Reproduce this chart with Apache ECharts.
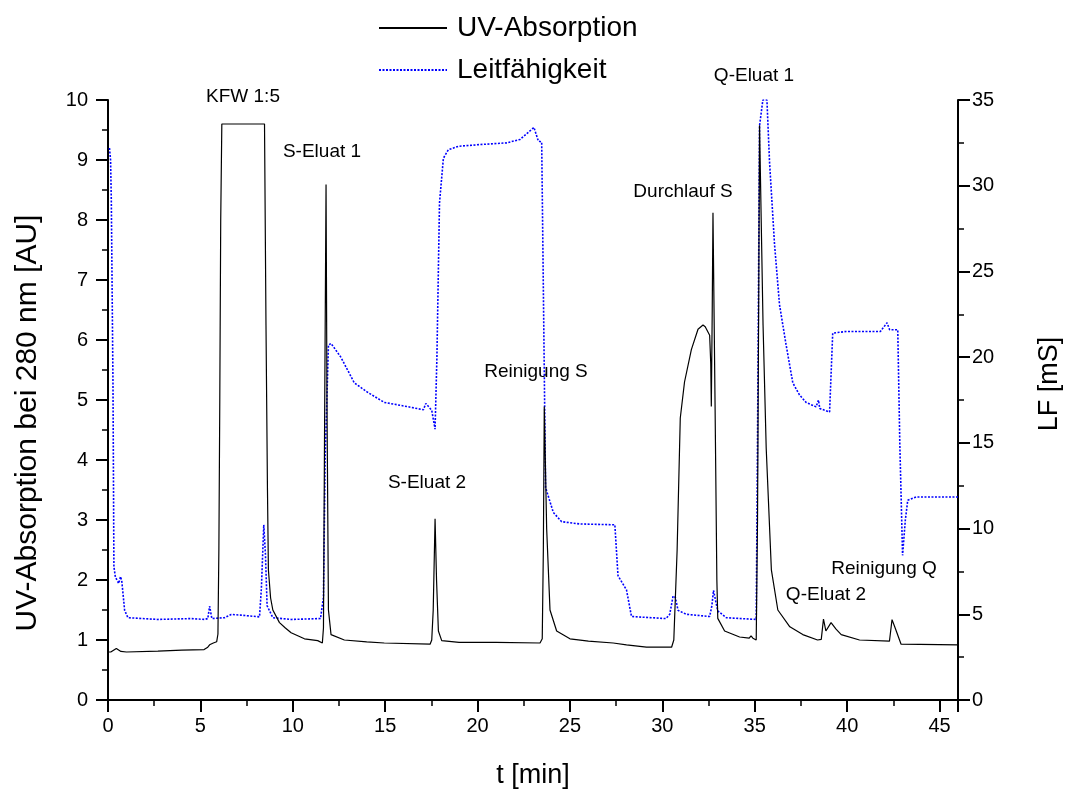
<!DOCTYPE html>
<html>
<head>
<meta charset="utf-8">
<script src="https://cdn.jsdelivr.net/npm/echarts@6/dist/echarts.min.js"></script>
<style>
  html, body { margin: 0; padding: 0; background: #fff; }
  #chart { width: 1071px; height: 794px; }
</style>
</head>
<body>
<div id="chart"></div>
<script>
// UV-Absorption (linke Achse, AU)
const uvTime = [0.0, 0.15, 0.45, 0.7, 1.0, 2.7, 4.0, 5.2, 5.4, 5.5, 5.7, 5.88, 5.95, 6.0, 6.05, 6.1, 6.16,
  8.47, 8.55, 8.63, 8.68, 8.8, 8.92, 9.28, 9.6, 9.91, 10.63, 11.35, 11.6, 11.66, 11.72, 11.8, 11.85, 11.93,
  12.07, 12.79, 14.0, 14.95, 17.43, 17.52, 17.6, 17.7, 17.78, 17.88, 18.06, 19.0, 21.0, 23.38, 23.5, 23.56,
  23.61, 23.74, 23.92, 24.28, 25.0, 26.0, 27.34, 28.06, 29.14, 30.5, 30.62, 30.67, 30.8, 30.97, 31.2, 31.57,
  31.93, 32.2, 32.32, 32.56, 32.62, 32.65, 32.7, 32.74, 32.85, 32.95, 33.0, 33.37, 34.18, 34.7, 34.8, 34.9,
  35.08, 35.15, 35.22, 35.26, 35.35, 35.45, 35.62, 35.9, 36.25, 36.9, 37.6, 38.4, 38.6, 38.72, 38.85, 38.95,
  39.13, 39.4, 39.68, 40.67, 42.29, 42.43, 42.6, 42.92, 46.0];
const uvValue = [0.80, 0.80, 0.86, 0.81, 0.80, 0.815, 0.83, 0.84, 0.88, 0.92, 0.95, 0.97, 1.1, 2.5, 5.0, 8.0, 9.6,
  9.6, 6.25, 3.5, 2.17, 1.7, 1.5, 1.29, 1.2, 1.12, 1.02, 0.99, 0.95, 1.2, 4.5, 8.59, 5.0, 1.5,
  1.09, 1.0, 0.97, 0.95, 0.93, 1.0, 1.5, 3.02, 2.0, 1.15, 0.99, 0.96, 0.96, 0.95, 1.02, 2.5,
  4.89, 2.85, 1.5, 1.15, 1.02, 0.98, 0.95, 0.92, 0.88, 0.88, 1.0, 1.02, 2.5, 4.7, 5.3, 5.84,
  6.18, 6.25, 6.22, 6.08, 5.6, 4.89, 6.5, 8.12, 5.0, 2.0, 1.36, 1.15, 1.05, 1.03, 1.07, 1.03,
  1.0, 3.0, 7.0, 9.58, 9.6, 6.25, 4.2, 2.17, 1.5, 1.22, 1.09, 1.0, 1.01, 1.35, 1.15, 1.12,
  1.29, 1.18, 1.09, 1.0, 0.98, 1.34, 1.2, 0.93, 0.92];

// Leitfähigkeit (rechte Achse, mS)
const lfTime = [0.08, 0.14, 0.18, 0.27, 0.32, 0.4, 0.58, 0.68, 0.75, 0.9, 1.08, 2.7, 4.5, 5.22, 5.4, 5.5, 5.62,
  6.3, 6.67, 7.2, 8.2, 8.3, 8.43, 8.52, 8.61, 8.92, 9.91, 11.5, 11.66, 11.75, 11.93, 12.07, 12.6, 13.33,
  14.05, 14.95, 16.17, 17.07, 17.2, 17.52, 17.7, 17.8, 17.94, 18.15, 18.42, 18.96, 20.14, 21.58, 22.3,
  23.05, 23.29, 23.47, 23.55, 23.68, 24.1, 24.55, 25.54, 27.43, 27.6, 28.06, 28.33, 30.2, 30.4, 30.58,
  30.7, 30.85, 31.3, 32.56, 32.68, 32.77, 32.88, 33.0, 33.46, 35.08, 35.15, 35.26, 35.44, 35.66, 35.8,
  36.07, 36.34, 36.7, 37.06, 37.42, 37.78, 38.32, 38.45, 38.52, 39.05, 39.22, 39.95, 41.8, 42.16, 42.3,
  42.74, 42.85, 43.0, 43.15, 43.28, 43.73, 46.0];
const lfValue = [32.2, 31.5, 29.1, 18.4, 7.77, 7.17, 6.8, 7.2, 6.9, 5.23, 4.8, 4.7, 4.75, 4.7, 4.75, 5.47, 4.75,
  4.8, 4.99, 4.95, 4.85, 6.5, 10.22, 8.5, 5.5, 4.8, 4.7, 4.75, 6.0, 14.0, 20.7, 20.8, 20.0, 18.5,
  17.95, 17.36, 17.12, 16.93, 17.3, 16.9, 15.8, 20.0, 29.0, 31.6, 32.1, 32.3, 32.4, 32.5, 32.7,
  33.4, 32.6, 32.55, 25.0, 12.4, 10.94, 10.4, 10.27, 10.22, 7.25, 6.42, 4.87, 4.75, 5.0, 6.06,
  6.0, 5.23, 5.0, 4.87, 5.5, 6.4, 5.8, 5.2, 4.8, 4.7, 15.0, 33.5, 35.0, 35.0, 31.4,
  26.6, 23.06, 20.7, 18.5, 17.8, 17.36, 17.1, 17.5, 17.0, 16.8, 21.4, 21.5, 21.5, 22.0, 21.6,
  21.6, 15.0, 8.44, 10.5, 11.65, 11.84, 11.84];

const xTicks = { min: 0, max: 46, interval: 5 };
const uvTicks = { min: 0, max: 10, interval: 1 };
const lfTicks = { min: 0, max: 35, interval: 5 };

// Beschriftungen der Peaks
const notes = [
  { text: 'KFW 1:5', x: 243, y: 97 },
  { text: 'S-Eluat 1', x: 322, y: 152 },
  { text: 'S-Eluat 2', x: 427, y: 483 },
  { text: 'Reinigung S', x: 536, y: 372 },
  { text: 'Durchlauf S', x: 683, y: 192 },
  { text: 'Q-Eluat 1', x: 754, y: 76 },
  { text: 'Reinigung Q', x: 884, y: 569 },
  { text: 'Q-Eluat 2', x: 826, y: 595 }
];

const font = 'Liberation Sans, Arial, sans-serif';
const uvData = uvTime.map((t, i) => [t, uvValue[i]]);
const lfData = lfTime.map((t, i) => [t, lfValue[i]]);

const axisCommon = {
  axisLine: { show: true, lineStyle: { color: '#000', width: 2 } },
  axisTick: { show: true, length: 12, lineStyle: { color: '#000', width: 2 } },
  minorTick: { show: true, splitNumber: 2, length: 6, lineStyle: { color: '#000', width: 1.5 } },
  splitLine: { show: false },
  axisLabel: { color: '#000', fontSize: 20, fontFamily: font }
};

const chart = echarts.init(document.getElementById('chart'));
const option = {
  animation: false,
  backgroundColor: '#fff',
  grid: { left: 108, right: 113, top: 100, bottom: 89 },
  legend: {
    orient: 'vertical',
    left: 373,
    top: 9,
    itemWidth: 68,
    itemHeight: 14,
    itemGap: 14,
    itemStyle: { opacity: 0 },
    textStyle: { fontSize: 28, fontFamily: font, color: '#000', padding: [0, 0, 0, 5] },
    data: ['UV-Absorption', 'Leitfähigkeit']
  },
  xAxis: Object.assign({}, axisCommon, {
    type: 'value',
    min: xTicks.min, max: xTicks.max, interval: xTicks.interval,
    name: 't [min]',
    nameLocation: 'middle',
    nameGap: 62,
    nameTextStyle: { fontSize: 27, fontFamily: font, color: '#000' },
    axisLabel: Object.assign({}, axisCommon.axisLabel, { margin: 16, showMaxLabel: false })
  }),
  yAxis: [
    Object.assign({}, axisCommon, {
      type: 'value',
      position: 'left',
      min: uvTicks.min, max: uvTicks.max, interval: uvTicks.interval,
      name: 'UV-Absorption bei 280 nm [AU]',
      nameLocation: 'middle',
      nameRotate: 90,
      nameGap: 65,
      nameTextStyle: { fontSize: 30, fontFamily: font, color: '#000', padding: [0, 46, 0, 0] },
      axisLabel: Object.assign({}, axisCommon.axisLabel, { margin: 20 })
    }),
    Object.assign({}, axisCommon, {
      type: 'value',
      position: 'right',
      min: lfTicks.min, max: lfTicks.max, interval: lfTicks.interval,
      name: 'LF [mS]',
      nameLocation: 'middle',
      nameRotate: 90,
      nameGap: 78,
      nameTextStyle: { fontSize: 27, fontFamily: font, color: '#000', padding: [0, 0, 0, 32] },
      axisLabel: Object.assign({}, axisCommon.axisLabel, { margin: 14 })
    })
  ],
  series: [
    {
      name: 'Leitfähigkeit',
      type: 'line',
      yAxisIndex: 1,
      data: lfData,
      symbol: 'none',
      color: '#0000ff',
      lineStyle: { color: '#0000ff', width: 1.6, type: [2, 1.5] },
      z: 2
    },
    {
      name: 'UV-Absorption',
      type: 'line',
      yAxisIndex: 0,
      data: uvData,
      symbol: 'none',
      color: '#000',
      lineStyle: { color: '#000', width: 1.2 },
      z: 3
    }
  ],
  graphic: notes.map(n => ({
    type: 'text',
    x: n.x,
    y: n.y,
    style: {
      text: n.text,
      font: '19px ' + font,
      fill: '#000',
      align: 'center',
      verticalAlign: 'middle'
    }
  }))
};
chart.setOption(option);
</script>
</body>
</html>
